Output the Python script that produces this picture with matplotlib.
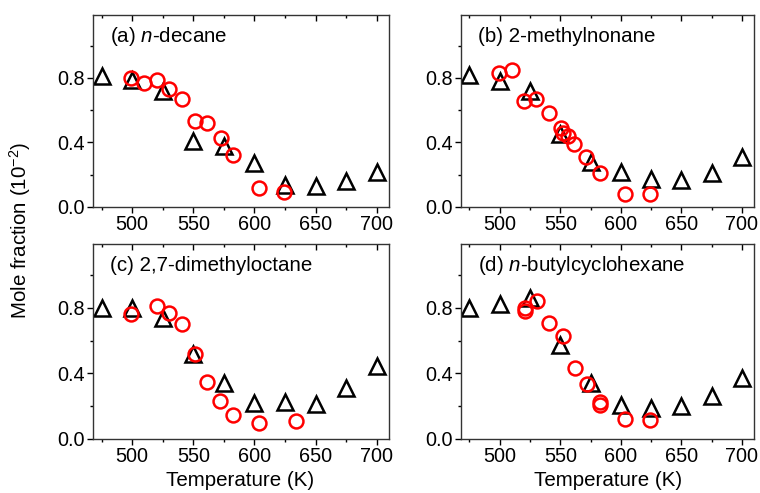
import matplotlib
matplotlib.use("Agg")
import matplotlib.pyplot as plt
from matplotlib.ticker import MultipleLocator

plt.rcParams["font.family"] = ["Liberation Sans", "DejaVu Sans"]
plt.rcParams["mathtext.fontset"] = "custom"
plt.rcParams["mathtext.rm"] = "Liberation Sans"
plt.rcParams["mathtext.it"] = "Liberation Sans:italic"

# ---------- data ----------
# (a) n-decane
a_tri_T = [475, 500, 525, 550, 575, 600, 625, 650, 675, 700]
a_tri_x = [0.81, 0.79, 0.72, 0.41, 0.38, 0.27, 0.135, 0.13, 0.16, 0.22]
a_cir_T = [499, 509.5, 520.5, 530.5, 541, 551.5, 561.5, 572.5, 582.5, 603.5, 624]
a_cir_x = [0.80, 0.77, 0.79, 0.73, 0.67, 0.53, 0.52, 0.43, 0.32, 0.115, 0.095]

# (b) 2-methylnonane
b_tri_T = [475, 500, 525, 550, 575, 600, 625, 650, 675, 700]
b_tri_x = [0.82, 0.78, 0.72, 0.45, 0.28, 0.22, 0.175, 0.17, 0.21, 0.31]
b_cir_T = [499.5, 510, 520, 530, 541, 551, 552, 556, 561, 571.5, 582.5, 603.5, 624]
b_cir_x = [0.83, 0.85, 0.66, 0.67, 0.58, 0.49, 0.46, 0.44, 0.39, 0.31, 0.21, 0.08, 0.08]

# (c) 2,7-dimethyloctane
c_tri_T = [475, 500, 525, 550, 575, 600, 625, 650, 675, 700]
c_tri_x = [0.80, 0.80, 0.74, 0.52, 0.34, 0.22, 0.225, 0.215, 0.31, 0.445]
c_cir_T = [499, 520, 530.5, 541, 551, 561.5, 572, 582.5, 603.5, 634]
c_cir_x = [0.76, 0.81, 0.77, 0.70, 0.52, 0.35, 0.23, 0.145, 0.096, 0.107]

# (d) n-butylcyclohexane
d_tri_T = [475, 500, 525, 550, 575, 600, 625, 650, 675, 700]
d_tri_x = [0.80, 0.825, 0.86, 0.575, 0.34, 0.21, 0.19, 0.20, 0.265, 0.37]
d_cir_T = [520.5, 521, 530.5, 541, 552, 562, 572, 582.5, 583, 603.5, 624]
d_cir_x = [0.80, 0.78, 0.84, 0.71, 0.63, 0.435, 0.334, 0.224, 0.21, 0.12, 0.116]

panel_labels = ["(a) $n$-decane", "(b) 2-methylnonane",
                "(c) 2,7-dimethyloctane", "(d) $n$-butylcyclohexane"]
panels = [
    (a_tri_T, a_tri_x, a_cir_T, a_cir_x),
    (b_tri_T, b_tri_x, b_cir_T, b_cir_x),
    (c_tri_T, c_tri_x, c_cir_T, c_cir_x),
    (d_tri_T, d_tri_x, d_cir_T, d_cir_x),
]

x_ticks = [500, 550, 600, 650, 700]
y_ticks = [0.0, 0.4, 0.8]

W, H = 760, 493
# pixel boxes (left, top, right, bottom)
boxes = [(93, 15, 389, 207), (461, 15, 754, 207),
         (93, 244, 389, 439), (461, 244, 754, 439)]

fig = plt.figure(figsize=(W / 100, H / 100), dpi=100)

for (l, t, r, b), (tT, tx, cT, cx), lab in zip(boxes, panels, panel_labels):
    ax = fig.add_axes([l / W, 1 - b / H, (r - l) / W, (b - t) / H])
    ax.plot(tT, tx, linestyle="none", marker="^", markersize=11,
            markerfacecolor="none", markeredgecolor="black",
            markeredgewidth=1.8, zorder=2)
    ax.plot(cT, cx, linestyle="none", marker="o", markersize=10,
            markerfacecolor="none", markeredgecolor="#ff0000",
            markeredgewidth=1.8, zorder=3)
    ax.set_xlim(468, 710)
    ax.set_ylim(0, 1.19)
    ax.set_xticks(x_ticks)
    ax.set_yticks(y_ticks)
    ax.set_yticklabels([f"{v:.1f}" for v in y_ticks])
    ax.xaxis.set_minor_locator(MultipleLocator(25))
    ax.yaxis.set_minor_locator(MultipleLocator(0.2))
    ax.tick_params(axis="both", which="major", direction="out", length=4,
                   width=1, labelsize=14.3, pad=2)
    ax.tick_params(axis="both", which="minor", direction="out", length=2,
                   width=1)
    ax.tick_params(axis="x", which="both", top=True)
    # top ticks point inward
    for tk in ax.xaxis.get_major_ticks() + ax.xaxis.get_minor_ticks():
        tk.tick2line.set_marker(3)
    for sp in ax.spines.values():
        sp.set_linewidth(1.0)
        sp.set_color("#333333")
    ax.text(0.057, 0.89, lab, transform=ax.transAxes, fontsize=14.8,
            va="center", ha="left")

fig.text(240 / W, 1 - 481 / H, "Temperature (K)", fontsize=14.8,
         ha="center", va="center")
fig.text(608 / W, 1 - 481 / H, "Temperature (K)", fontsize=14.8,
         ha="center", va="center")
fig.text(20 / W, 1 - 230 / H, "Mole fraction (10$^{-2}$)", fontsize=14.8,
         ha="center", va="center", rotation=90)

fig.savefig("out.png", dpi=100)
